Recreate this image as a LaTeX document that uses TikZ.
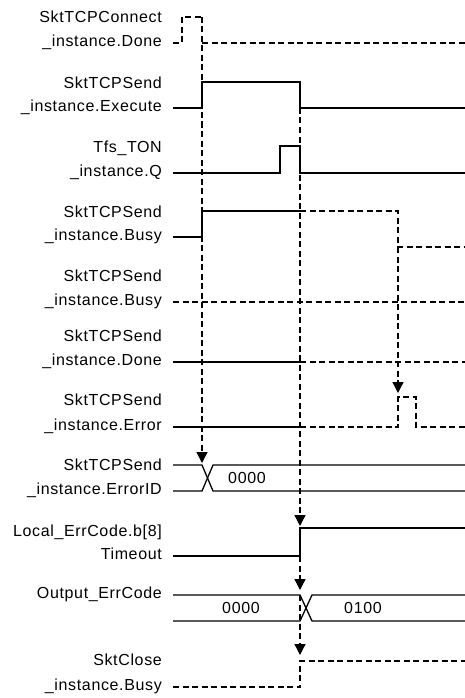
\documentclass[tikz,border=0pt]{standalone}
\usepackage{fontspec}
\setmainfont[LetterSpace=4]{Liberation Sans}
\usetikzlibrary{arrows.meta}
\tikzset{
  sig/.style={line width=1.3pt},
  dsig/.style={line width=1.3pt, dash pattern=on 6pt off 3.5pt},
  arr/.style={dsig, -{Triangle[width=11pt,length=11pt]}},
  lbl/.style={anchor=mid east, inner sep=0pt, font=\fontsize{16}{18}\selectfont},
  val/.style={anchor=center, inner sep=0pt, font=\fontsize{16}{18}\selectfont}
}
\begin{document}
\begin{tikzpicture}[x=1pt,y=-1pt]
\useasboundingbox (0,0) rectangle (465,698);
% labels
\node[lbl] (l1a) at (162,20) {SktTCPConnect};
\node[lbl] (l1b) at (162,44) {\_instance.Done};
\node[lbl] (l2a) at (162,86) {SktTCPSend};
\node[lbl] (l2b) at (162,109) {\_instance.Execute};
\node[lbl] (l3a) at (162,150) {Tfs\_TON};
\node[lbl] (l3b) at (162,174) {\_instance.Q};
\node[lbl] (l4a) at (162,215) {SktTCPSend};
\node[lbl] (l4b) at (162,238) {\_instance.Busy};
\node[lbl] (l5a) at (162,279) {SktTCPSend};
\node[lbl] (l5b) at (162,303) {\_instance.Busy};
\node[lbl] (l6a) at (162,339) {SktTCPSend};
\node[lbl] (l6b) at (162,363) {\_instance.Done};
\node[lbl] (l7a) at (162,403) {SktTCPSend};
\node[lbl] (l7b) at (162,428) {\_instance.Error};
\node[lbl] (l8a) at (162,468) {SktTCPSend};
\node[lbl] (l8b) at (162,492) {\_instance.ErrorID};
\node[lbl] (l9a) at (162,534) {Local\_ErrCode.b[8]};
\node[lbl] (l9b) at (162,557) {Timeout};
\node[lbl] (l10) at (162,596) {Output\_ErrCode};
\node[lbl] (l11a) at (162,663) {SktClose};
\node[lbl] (l11b) at (162,688) {\_instance.Busy};
% values
\node[val] (v1) at (247,478) {0000};
\node[val] (v2) at (241,608) {0000};
\node[val] (v3) at (363,608) {0100};
% key coordinates
\coordinate (a1s) at (202,17);  \coordinate (a1e) at (202,463);
\coordinate (a2s) at (300,108); \coordinate (a2e) at (300,526);
\coordinate (a3s) at (300,556); \coordinate (a3e) at (300,590);
\coordinate (a4s) at (300,595); \coordinate (a4e) at (300,655);
\coordinate (a5s) at (398,247); \coordinate (a5e) at (398,393);
% row 1: SktTCPConnect_instance.Done
\draw[dsig] (173,43) -- (182,43) -- (182,17) -- (202,17);
\draw[dsig] (202,43) -- (465,43);
% row 2: Execute
\draw[sig] (173,108) -- (202,108) -- (202,82) -- (300,82) -- (300,108) -- (465,108);
% row 3: Tfs_TON Q
\draw[sig] (173,173) -- (280,173) -- (280,146) -- (300,146) -- (300,173) -- (465,173);
% row 4: Busy
\draw[sig] (173,237) -- (202,237) -- (202,211) -- (300,211);
\draw[dsig] (300,211) -- (398,211) -- (398,247) -- (465,247);
% row 5: Busy (dashed)
\draw[dsig] (173,302) -- (465,302);
% row 6: Done
\draw[sig] (173,362) -- (300,362);
\draw[dsig] (300,362) -- (465,362);
% row 7: Error
\draw[sig] (173,427) -- (300,427);
\draw[dsig] (300,427) -- (398,427) -- (398,397) -- (416,397) -- (416,427) -- (465,427);
% row 8: ErrorID
\draw[sig] (173,465) -- (202,465) -- (213,491) -- (465,491);
\draw[sig] (173,491) -- (202,491) -- (213,465) -- (465,465);
% row 9: Local_ErrCode
\draw[sig] (173,556) -- (300,556) -- (300,528) -- (465,528);
% row 10: Output_ErrCode
\draw[sig] (173,595) -- (300,595) -- (312,621) -- (465,621);
\draw[sig] (173,621) -- (300,621) -- (312,595) -- (465,595);
% row 11: SktClose Busy
\draw[dsig] (173,687) -- (300,687) -- (300,661) -- (465,661);
% causal arrows
\draw[arr] (a1s) -- (a1e);
\draw[arr] (a2s) -- (a2e);
\draw[arr] (a3s) -- (a3e);
\draw[arr] (a4s) -- (a4e);
\draw[arr] (a5s) -- (a5e);
\end{tikzpicture}
\end{document}
